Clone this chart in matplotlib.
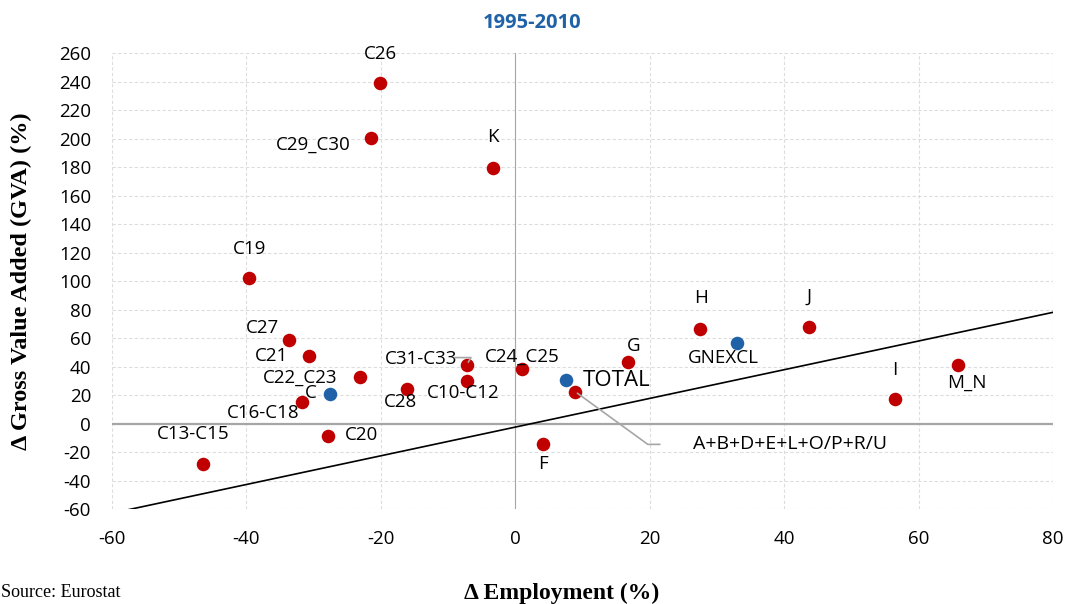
import numpy as np
import matplotlib
matplotlib.use("Agg")
import matplotlib.pyplot as plt

plt.rcParams['axes.unicode_minus'] = False

# sector data: change in employment (%) and change in GVA (%)
labels = ['C26', 'C29_C30', 'K', 'C19', 'C27', 'C21', 'C22_C23', 'C16-C18',
          'C20', 'C13-C15', 'C28', 'C31-C33', 'C10-C12', 'C24_C25',
          'A+B+D+E+L+O/P+R/U', 'F', 'G', 'H', 'J', 'I', 'M_N']
emp = [-20.1, -21.4, -3.3, -39.6, -33.7, -30.7, -23.1, -31.7,
       -27.9, -46.4, -16.1, -7.2, -7.2, 1.0,
       8.9, 4.1, 16.8, 27.4, 43.7, 56.5, 65.9]
gva = [239, 200.5, 179.5, 102, 58.5, 47.5, 32.5, 15,
       -9, -28, 24, 41.5, 30, 38.5,
       22.5, -14, 43.5, 66.5, 67.5, 17.5, 41.5]

# aggregates (blue)
agg_labels = ['C', 'TOTAL', 'GNEXCL']
agg_emp = [-27.6, 7.6, 33.0]
agg_gva = [20.5, 30.5, 56.5]

# linear trend line
trend_slope = 1.007
trend_icpt = -2.4

# label offsets in points (layout only)
offs = {
    'C26': (0, 21), 'C29_C30': (-42, -5), 'K': (0, 22), 'C19': (0, 21),
    'C27': (-19, 9), 'C21': (-27, 0), 'C22_C23': (-43, 0), 'C16-C18': (-28, -8),
    'C20': (24, 1), 'C13-C15': (-7, 21), 'C28': (-5, -9), 'C31-C33': (-33, 4),
    'C10-C12': (-3, -9), 'C24_C25': (0, 9), 'F': (0, -15), 'G': (4, 11),
    'H': (1, 22), 'J': (0, 22), 'I': (0, 21), 'M_N': (6, -13),
    'C': (-14, 1), 'TOTAL': (36, 0), 'GNEXCL': (-10, -11),
}

red = '#C00000'
blue = '#1F62A8'

fig = plt.figure(figsize=(10.66, 6.04), dpi=100)
ax = fig.add_axes([0.105, 0.157, 0.883, 0.755])

ax.set_xlim(-60, 80)
ax.set_ylim(-60, 260)
ax.set_xticks(np.arange(-60, 81, 20))
ax.set_yticks(np.arange(-60, 261, 20))
ax.grid(True, color='#DDDDDD', linestyle=(0, (3, 2)), linewidth=0.8)
ax.set_axisbelow(True)
for s in ax.spines.values():
    s.set_visible(False)
ax.tick_params(length=0, labelsize=13.5, pad=15)
for t in ax.get_xticklabels() + ax.get_yticklabels():
    t.set_family('Open Sans')

ax.axvline(0, color='#A6A6A6', linewidth=0.8, zorder=1)
ax.axhline(0, color='#A6A6A6', linewidth=1.6, zorder=1)

xs = np.array([-60, 80])
ax.plot(xs, trend_slope * xs + trend_icpt, color='black', linewidth=1.2, zorder=2)

ax.scatter(emp, gva, s=95, color=red, zorder=3, linewidths=0)
ax.scatter(agg_emp, agg_gva, s=95, color=blue, zorder=3, linewidths=0)

for lab, x, y in zip(labels, emp, gva):
    if lab == 'A+B+D+E+L+O/P+R/U':
        continue
    ax.annotate(lab, (x, y), xytext=offs[lab], textcoords='offset points',
                ha='center', va='center', fontsize=13.5, family='Open Sans')
for lab, x, y in zip(agg_labels, agg_emp, agg_gva):
    ax.annotate(lab, (x, y), xytext=offs[lab], textcoords='offset points',
                ha='center', va='center', family='Open Sans',
                fontsize=16 if lab == 'TOTAL' else 13.5)

# leader lines
i = labels.index('C31-C33')
ax.annotate('', (emp[i], gva[i]), xytext=(-11, 5), textcoords='offset points',
            arrowprops=dict(arrowstyle='-', color='#A6A6A6', lw=1.2,
                            connectionstyle='angle,angleA=0,angleB=60,rad=0'))
i = labels.index('A+B+D+E+L+O/P+R/U')
ax.annotate(labels[i], (emp[i], gva[i]), xytext=(85, -38), textcoords='offset points',
            ha='left', va='center', fontsize=14, family='Open Sans')
ax.annotate('', (emp[i], gva[i]), xytext=(61, -38), textcoords='offset points',
            arrowprops=dict(arrowstyle='-', color='#A6A6A6', lw=1.2, shrinkA=0, shrinkB=2,
                            connectionstyle='angle,angleA=0,angleB=-36,rad=0'))

fig.text(0.499, 0.962, '1995-2010', ha='center', va='center', color='#1F62A8',
         fontsize=14.5, fontweight='bold', family='Open Sans')
fig.text(0.02, 0.535, '\u0394 Gross Value Added (GVA) (%)', rotation=90, ha='center',
         va='center', fontsize=17.5, fontweight='bold', family='Liberation Serif')
fig.text(0.527, 0.018, '\u0394 Employment (%)', ha='center', va='center',
         fontsize=17, fontweight='bold', family='Liberation Serif')
fig.text(0.001, 0.005, 'Source: Eurostat', ha='left', va='bottom',
         fontsize=13, family='Liberation Serif')

fig.savefig('out.png', dpi=100)
